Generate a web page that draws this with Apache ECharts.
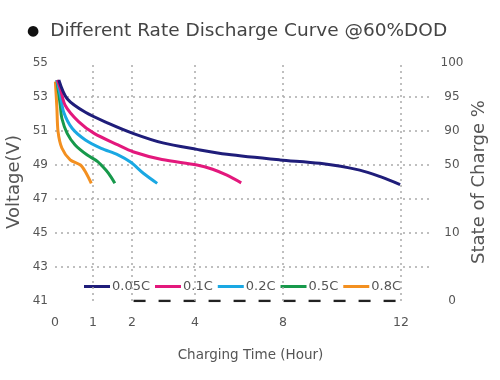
<!DOCTYPE html>
<html><head><meta charset="utf-8">
<script src="https://cdn.jsdelivr.net/npm/echarts@6/dist/echarts.min.js"></script>
<style>html,body{margin:0;padding:0;background:#fff}#c{width:500px;height:380px}</style>
</head><body><div id="c"></div>
<script>
// ---------- data ----------
const titleText = 'Different Rate Discharge Curve @60%DOD';
const xAxisName = 'Charging Time (Hour)';
const yAxisName = 'Voltage(V)';
const socAxisName = 'State of Charge %';
const seriesNames = ['0.05C', '0.1C', '0.2C', '0.5C', '0.8C'];
const xTickHours = [0, 1, 2, 4, 8, 12];
const socTickVolt = [55, 53, 51, 49, 45, 41];
const socTickLabels = ['100', '95', '90', '50', '10', '0'];
// [hour, volt]
const c005 = [[0.1,54.0],[0.32,52.9],[0.8,52.1],[1.4,51.45],[2.05,50.85],[2.98,50.3],[4.09,49.92],[5.45,49.63],[7.86,49.3],[9.25,49.1],[10.6,48.7],[11.32,48.3],[11.97,47.85]];
const c01  = [[0.06,54.0],[0.14,53.5],[0.27,52.5],[0.62,51.55],[1.03,50.86],[1.64,50.18],[2.03,49.78],[2.95,49.32],[4.09,49.0],[4.8,48.75],[5.45,48.4],[6.1,47.95]];
const c02  = [[0.05,54.0],[0.14,53.1],[0.23,52.1],[0.45,51.16],[0.8,50.47],[1.21,49.98],[1.64,49.6],[1.97,49.16],[2.37,48.5],[2.8,47.92]];
const c05  = [[0.05,54.0],[0.14,52.5],[0.18,51.75],[0.32,50.86],[0.53,50.18],[0.84,49.6],[1.12,49.2],[1.33,48.7],[1.46,48.3],[1.56,47.92]];
const c08  = [[0.01,53.9],[0.05,52.35],[0.08,50.96],[0.18,50.0],[0.4,49.3],[0.67,49.0],[0.8,48.6],[0.955,47.92]];
const refDash = [[2.05,41],[12.1,41]];

// ---------- layout (x axis is not linear in hours) ----------
const X_TICK_POS = [0, 38, 77, 140, 228, 346];
const X_MAX = 377;
function hourToPos(h) {
  for (let i = 0; i < xTickHours.length - 1; i++) {
    const h0 = xTickHours[i], h1 = xTickHours[i + 1];
    if (h <= h1 || i === xTickHours.length - 2) {
      return X_TICK_POS[i] + (h - h0) / (h1 - h0) * (X_TICK_POS[i + 1] - X_TICK_POS[i]);
    }
  }
}
const conv = arr => arr.map(p => [hourToPos(p[0]), p[1]]);
const colors = ['#1f1d7a', '#e3187c', '#1aa8e3', '#17994b', '#f39020'];
const FONT = 'DejaVu Sans';
const grey = '#555';
const gridStyle = { color: '#aaa', width: 1.5, type: [2, 4] };

const chart = echarts.init(document.getElementById('c'), null, { renderer: 'canvas' });
const curves = [c005, c01, c02, c05, c08];
const series = curves.map((d, i) => ({
  name: seriesNames[i], type: 'line', data: conv(d), smooth: 0.3,
  showSymbol: false, symbol: 'none', z: 10 - i,
  lineStyle: { color: colors[i], width: 3 }, itemStyle: { color: colors[i] }
}));
series.push({
  name: 'grid', type: 'line', data: [], silent: true,
  markLine: {
    silent: true, symbol: 'none', label: { show: false }, animation: false,
    lineStyle: gridStyle, emphasis: { disabled: true },
    data: xTickHours.slice(1).map(h => ({ xAxis: hourToPos(h) }))
  }
});
series.push({
  name: 'ref', type: 'line', data: conv(refDash), silent: true, symbol: 'none',
  lineStyle: { color: '#222', width: 2.5, type: [12, 13] }
});

chart.setOption({
  animation: false,
  title: {
    text: '{b|●} {t|' + titleText + '}', left: 22, top: 17,
    textStyle: { fontWeight: 'normal', rich: {
      b: { fontSize: 14, color: '#111', fontFamily: FONT, fontWeight: 'normal', padding: [0, 6, 0, 0] },
      t: { fontSize: 18.5, color: '#444', fontFamily: FONT, fontWeight: 'normal' }
    } }
  },
  legend: {
    data: seriesNames, left: 84, top: 280, padding: 0, itemWidth: 26, itemHeight: 3, itemGap: 5,
    icon: 'rect', textStyle: { fontFamily: FONT, fontSize: 13, color: grey, padding: [0, 0, 0, -3] }
  },
  grid: { left: 55, right: 68, top: 63, bottom: 79, outerBoundsMode: 'none', containLabel: false },
  xAxis: {
    type: 'value', min: 0, max: X_MAX,
    name: xAxisName, nameLocation: 'middle', nameGap: 47, nameMoveOverlap: false,
    nameTextStyle: { fontFamily: FONT, fontSize: 13.5, color: grey, padding: [0, 0, 0, 14] },
    axisLine: { show: false }, axisTick: { show: false }, splitLine: { show: false },
    axisLabel: {
      customValues: X_TICK_POS, margin: 15, fontFamily: FONT, fontSize: 12.5, color: grey,
      formatter: v => { const i = X_TICK_POS.findIndex(p => Math.abs(p - v) < 0.01); return i >= 0 ? String(xTickHours[i]) : ''; }
    }
  },
  yAxis: [{
    type: 'value', min: 41, max: 55, interval: 2,
    name: yAxisName, nameLocation: 'middle', nameGap: 32, nameRotate: 90, nameMoveOverlap: false,
    nameTextStyle: { fontFamily: FONT, fontSize: 18, color: grey },
    axisLine: { show: false }, axisTick: { show: false },
    axisLabel: { margin: 7, fontFamily: FONT, fontSize: 12, color: grey },
    splitLine: { show: true, showMinLine: false, showMaxLine: false, lineStyle: gridStyle }
  }, {
    type: 'value', min: 41, max: 55, position: 'right',
    name: socAxisName, nameLocation: 'middle', nameGap: 38, nameRotate: 90, nameMoveOverlap: false,
    nameTextStyle: { fontFamily: FONT, fontSize: 18, color: grey },
    axisLine: { show: false }, axisTick: { show: false }, splitLine: { show: false },
    axisLabel: {
      customValues: socTickVolt, margin: 20, align: 'center', fontFamily: FONT, fontSize: 12, color: grey,
      formatter: v => { const i = socTickVolt.indexOf(v); return i >= 0 ? socTickLabels[i] : ''; }
    }
  }],
  series: series
});
</script></body></html>
